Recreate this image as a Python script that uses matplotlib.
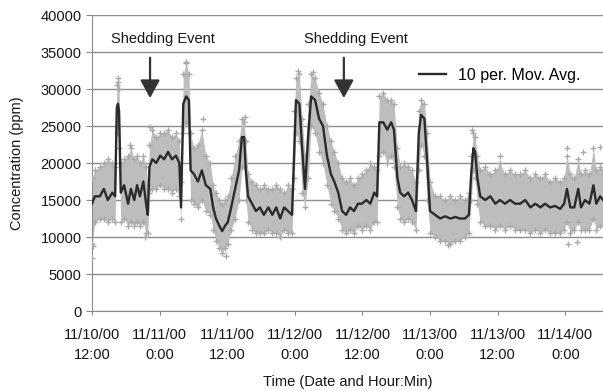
import matplotlib
matplotlib.use("Agg")
from matplotlib import pyplot as plt

plt.rcParams['font.family'] = ['Liberation Sans', 'DejaVu Sans']

# hours since 11/10/00 12:00
hours = [0.0, 0.5, 1.4, 2.1, 2.8, 3.6, 4.1, 4.4, 4.6, 4.8, 5.1, 5.7, 6.4, 6.9, 7.5,
         8.0, 8.5, 9.1, 9.6, 9.9, 10.2, 10.7, 11.4, 12.1, 12.8, 13.5, 14.2, 14.9,
         15.5, 15.8, 16.2, 16.7, 17.2, 17.5, 18.1, 18.8, 19.5, 20.2, 21.0, 21.5,
         22.0, 22.6, 23.1, 23.6, 24.1, 24.7, 25.4, 26.1, 26.6, 27.0, 27.3, 27.7,
         28.4, 29.1, 29.8, 30.5, 31.3, 32.0, 32.7, 33.4, 34.1, 34.8, 35.5, 35.9,
         36.2, 36.8, 37.3, 37.8, 38.4, 38.9, 39.6, 40.3, 41.0, 41.7, 42.4, 43.0,
         43.7, 44.4, 45.1, 45.8, 46.5, 47.2, 47.9, 48.7, 49.4, 50.1, 50.6, 51.0,
         51.7, 52.4, 53.1, 53.6, 54.2, 54.7, 55.4, 56.1, 56.8, 57.5, 58.0, 58.4,
         59.0, 59.5, 60.0, 60.9, 61.8, 62.7, 63.6, 64.5, 65.3, 66.2, 66.9, 67.3,
         67.7, 68.0, 68.4, 68.9, 69.8, 70.7, 71.6, 72.4, 73.3, 74.2, 75.1, 76.0,
         76.9, 77.8, 78.7, 79.6, 80.4, 81.3, 82.2, 83.1, 83.8, 84.3, 84.9, 85.6,
         86.3, 86.8, 87.5, 88.3, 89.0, 89.5, 90.2, 90.7]

mov_avg = [14500, 15500, 15500, 16500, 15000, 16000, 15500, 27500, 28000, 27000,
           16000, 17000, 14500, 16500, 15000, 17000, 15500, 17500, 14500, 13000,
           19500, 20500, 20000, 21000, 20500, 21500, 20500, 21000, 20000, 14000,
           28000, 29000, 28500, 19000, 18500, 17500, 19000, 17000, 16500, 14000,
           12500, 11500, 10800, 11500, 12000, 14000, 16500, 19000, 23500, 23500,
           19000, 15500, 14500, 13500, 14000, 13000, 14000, 13000, 14000, 12500,
           14000, 13500, 13000, 22000, 28500, 28000, 22000, 16500, 24000, 29000,
           28500, 26000, 25000, 21000, 18500, 17500, 16000, 13500, 13000, 14000,
           13500, 14500, 14500, 15000, 14500, 16000, 15500, 25500, 25500, 24500,
           25500, 24500, 18000, 16000, 15500, 16000, 15000, 13500, 24000, 26500,
           26000, 20000, 13500, 13000, 12500, 12800, 12500, 12700, 12500, 12500,
           13000, 18500, 22000, 21500, 18000, 15500, 15000, 15500, 14500, 15000,
           14500, 15000, 14500, 14500, 15000, 14000, 14500, 14000, 14500, 14000,
           14200, 13800, 14500, 16500, 14000, 14000, 16500, 14000, 15000, 14500,
           17000, 14500, 15500, 15000]

reading_low = [9000, 12000, 12500, 12500, 12000, 12500, 12000, 24000, 25000, 22000,
               12000, 12500, 11500, 12000, 11500, 12000, 11500, 12000, 10500, 10500,
               16000, 16500, 16500, 17000, 16500, 16500, 16000, 16500, 15500, 12500,
               24000, 25500, 24000, 15000, 14500, 14000, 15000, 13500, 13000, 11000,
               9500, 8500, 7800, 8500, 9000, 11000, 12500, 15000, 19500, 19500,
               15000, 12000, 11000, 10500, 10500, 10500, 11000, 10500, 10500, 10000,
               11000, 10500, 10500, 18000, 24000, 23000, 16000, 14000, 18000, 25000,
               24000, 21500, 20000, 17000, 14500, 13500, 12500, 11000, 10500, 11000,
               10500, 11500, 11000, 11500, 11000, 12000, 12000, 21000, 21500, 20000,
               21000, 19500, 14000, 12500, 12000, 12500, 12000, 11000, 19000, 22500,
               21000, 15000, 10500, 10000, 9500, 9500, 9000, 9500, 9500, 10000,
               10500, 15000, 19000, 18000, 14500, 12000, 11500, 11500, 11000, 11500,
               11000, 11500, 11000, 11000, 11000, 10500, 11000, 10500, 11000, 10500,
               10500, 10500, 11000, 12000, 10500, 11000, 12000, 11000, 11000, 11000,
               12500, 11000, 11500, 11500]

reading_high = [18000, 19000, 19500, 20000, 20500, 20000, 19500, 30500, 31000, 30000,
                20000, 20500, 21000, 22000, 20500, 21000, 20000, 21000, 19500, 17000,
                22500, 24500, 23500, 24000, 24000, 24500, 23500, 24000, 23000, 17500,
                32000, 33500, 32000, 24000, 22000, 22500, 24500, 21000, 20000, 17000,
                16000, 15000, 14500, 15000, 15500, 18000, 21000, 23000, 26000, 25500,
                23000, 18500, 17500, 17000, 16500, 17000, 16500, 16500, 17000, 16500,
                16000, 17000, 16500, 27000, 31500, 32000, 26000, 21000, 28000, 32000,
                31500, 29500, 28000, 25000, 23000, 21500, 20000, 18000, 17500, 18000,
                17000, 18000, 18500, 19000, 20000, 19500, 19000, 29000, 29500, 28500,
                28500, 28000, 22000, 19500, 20000, 19500, 19000, 17500, 27000, 28500,
                28000, 24000, 17500, 15500, 15500, 15000, 15500, 15000, 15500, 15000,
                16000, 21000, 24000, 23500, 21000, 19000, 19500, 18500, 19000, 20000,
                18500, 19000, 18500, 18500, 19000, 18000, 18500, 18000, 18500, 17500,
                18000, 17500, 18000, 21000, 18500, 18000, 20500, 18500, 19000, 18500,
                22000, 19000, 19500, 19000]

# isolated readings outside the main band
stray_hours = [0.0, 0.2, 4.6, 6.7, 9.4, 10.3, 16.7, 19.7, 23.8, 27.2, 36.6, 39.2,
               63.2, 67.5, 72.4, 84.3, 84.5, 86.1, 87.2, 90.2]
stray_ppm = [7200, 8800, 31500, 22500, 10000, 24800, 33700, 26000, 7500, 26200,
             32500, 32300, 8900, 24500, 21000, 22000, 9000, 9300, 21500, 22200]

tick_hours = [0, 12, 24, 36, 48, 60, 72, 84]
tick_labels = ['11/10/00\n12:00', '11/11/00\n0:00', '11/11/00\n12:00', '11/12/00\n0:00',
               '11/12/00\n12:00', '11/13/00\n0:00', '11/13/00\n12:00', '11/14/00\n0:00']

event_hours = [10.3, 44.7]

fs = 10.5
ink = '#161616'

fig = plt.figure(figsize=(6.03, 3.91), dpi=100)
ax = fig.add_axes([0.1526, 0.2046, 0.8474, 0.757])

dot_color = '#a9a9a9'
ax.fill_between(hours, reading_low, reading_high, color='#bdbdbd', linewidth=0, zorder=2)
ax.scatter(hours, reading_low, marker='+', s=14, color=dot_color, linewidths=1, zorder=3)
ax.scatter(hours, reading_high, marker='+', s=14, color=dot_color, linewidths=1, zorder=3)
ax.scatter(stray_hours, stray_ppm, marker='+', s=14, color=dot_color, linewidths=1, zorder=3)
ax.plot(hours, mov_avg, color='#2a2a2a', linewidth=1.7, zorder=4, label='10 per. Mov. Avg.')

for h in event_hours:
    ax.annotate('', xy=(h, 28400), xytext=(h, 34600),
                arrowprops=dict(arrowstyle='-|>,head_width=0.6,head_length=1.1',
                                color='#333333', lw=1.6), zorder=5)
    ax.text(h + 2.2, 36800, 'Shedding Event', ha='center', va='center',
            fontsize=fs, color=ink)

ax.set_xlim(0, 90.7)
ax.set_ylim(0, 40000)
ax.set_yticks(range(0, 40001, 5000))
ax.set_xticks(tick_hours)
ax.set_xticklabels(tick_labels, fontsize=fs, color=ink, linespacing=1.6)
ax.tick_params(axis='y', labelsize=fs, labelcolor=ink, length=4, color='#888888')
ax.tick_params(axis='x', length=3, color='#888888', pad=9)
ax.grid(axis='y', color='#8c8c8c', linewidth=1, zorder=1)
ax.set_axisbelow(True)
for side in ['top', 'right']:
    ax.spines[side].set_visible(False)
for side in ['left', 'bottom']:
    ax.spines[side].set_color('#8c8c8c')

ax.set_xlabel('Time (Date and Hour:Min)', fontsize=fs, color=ink, labelpad=9)
ax.set_ylabel('Concentration (ppm)', fontsize=fs, color=ink, labelpad=12)

ax.legend(loc='upper right', bbox_to_anchor=(0.985, 0.87), frameon=False,
          fontsize=11.5, handlelength=1.7, handletextpad=0.8)

plt.savefig('out.png', dpi=100)
plt.close()
